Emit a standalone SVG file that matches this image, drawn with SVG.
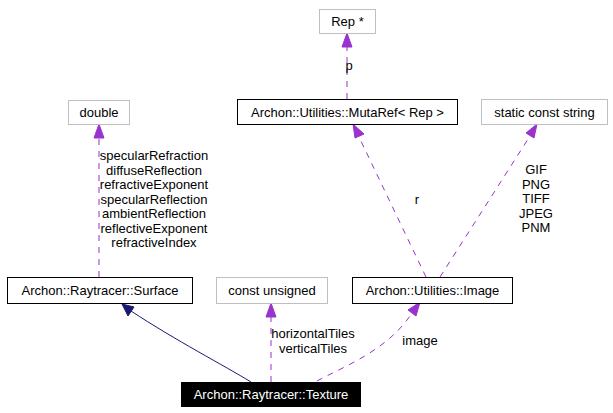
<svg xmlns="http://www.w3.org/2000/svg" width="613" height="413" viewBox="0 0 613 413">
<style>
text{font-family:"Liberation Sans",Arial,sans-serif;font-size:13px;fill:#000;text-anchor:middle}
.box{fill:#fff;stroke:#000;stroke-width:1}
.gbox{fill:#fff;stroke:#bfbfbf;stroke-width:1}
.dep{fill:none;stroke:#9a32cd;stroke-width:1;stroke-dasharray:6,6}
.inh{fill:none;stroke:#191970;stroke-width:1}
.hp{fill:#9a32cd;stroke:#9a32cd}
.hn{fill:#191970;stroke:#191970}
</style>
<rect width="613" height="413" fill="#fff"/>
<g id="connectors">
<path class="inh" d="M251,382 C225,366 175,340 131,311"/>
<polygon class="hn" points="122,304 134,307 128,316"/>
<path class="dep" d="M99,277 L99,137"/>
<polygon class="hp" points="99,124 104,138 94,138"/>
<path class="dep" d="M347,99 L347,46"/>
<polygon class="hp" points="347,33 352,47 342,47"/>
<path class="dep" d="M271,382 L271,317"/>
<polygon class="hp" points="271,303 276,317 266,317"/>
<path class="dep" d="M426,277 L359,137"/>
<polygon class="hp" points="353,124 364,134 355,138"/>
<path class="dep" d="M440,277 L530,136"/>
<polygon class="hp" points="537,124 534,138 526,133"/>
<path class="dep" stroke-dasharray="4,6" d="M317,381 C345,366 388,350 412,313"/>
<polygon class="hp" points="420,302 416,316 408,310"/>
</g>
<g id="edge-labels">
<text x="349" y="70">p</text>
<text x="154" y="160">specularRefraction</text>
<text x="154" y="174.5">diffuseReflection</text>
<text x="154" y="189">refractiveExponent</text>
<text x="154" y="203.5">specularReflection</text>
<text x="154" y="218">ambientReflection</text>
<text x="154" y="232.5">reflectiveExponent</text>
<text x="154" y="247">refractiveIndex</text>
<text x="417" y="204">r</text>
<text x="536" y="174">GIF</text>
<text x="536" y="188.5">PNG</text>
<text x="536" y="203">TIFF</text>
<text x="536" y="217.5">JPEG</text>
<text x="536" y="232">PNM</text>
<text x="313" y="338">horizontalTiles</text>
<text x="313" y="352.5">verticalTiles</text>
<text x="420" y="345">image</text>
</g>
<g id="node-rep"><rect class="gbox" x="319.5" y="9.5" width="56" height="24"/><text x="347.5" y="26">Rep *</text></g>
<g id="node-mutaref"><rect class="box" x="237.5" y="99.5" width="220" height="25"/><text x="347.5" y="116.5">Archon::Utilities::MutaRef&lt; Rep &gt;</text></g>
<g id="node-string"><rect class="gbox" x="481.5" y="99.5" width="126" height="25"/><text x="544.5" y="116.5">static const string</text></g>
<g id="node-double"><rect class="gbox" x="68.5" y="100.5" width="61" height="24"/><text x="99" y="117">double</text></g>
<g id="node-surface"><rect class="box" x="7.5" y="277.5" width="185" height="26"/><text x="100" y="295">Archon::Raytracer::Surface</text></g>
<g id="node-unsigned"><rect class="gbox" x="216.5" y="277.5" width="111" height="26"/><text x="272" y="295">const unsigned</text></g>
<g id="node-image"><rect class="box" x="352.5" y="277.5" width="160" height="26"/><text x="432.5" y="295">Archon::Utilities::Image</text></g>
<g id="node-texture"><rect x="181" y="382" width="180" height="25" fill="#000"/><text x="271" y="399" style="fill:#fff">Archon::Raytracer::Texture</text></g>
</svg>
